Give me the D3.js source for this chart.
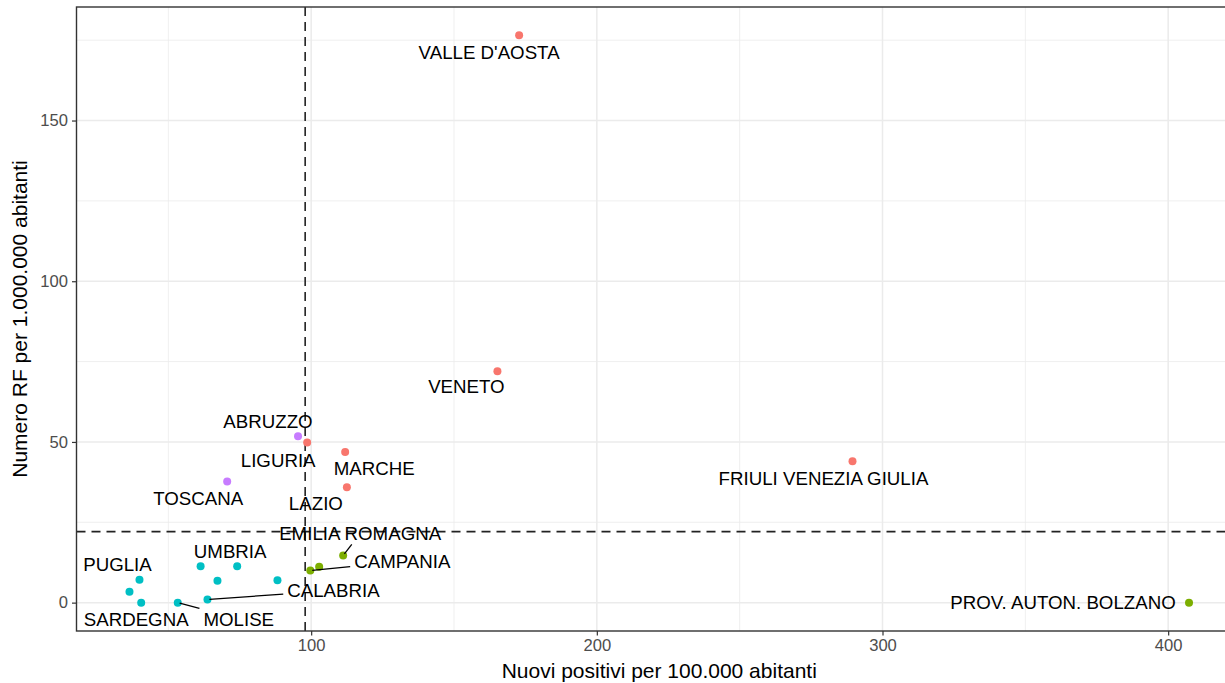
<!DOCTYPE html>
<html>
<head>
<meta charset="utf-8">
<script src="https://cdn.jsdelivr.net/npm/d3@7"></script>
<style>
body { margin: 0; background: #fff; }
svg { display: block; font-family: "Liberation Sans", Arial, sans-serif; }
</style>
</head>
<body>
<script>
// dati
var regioni = ["VALLE D'AOSTA", "VENETO", "FRIULI VENEZIA GIULIA", "PROV. AUTON. BOLZANO",
    "ABRUZZO", "LIGURIA", "MARCHE", "LAZIO", "TOSCANA", "EMILIA ROMAGNA", "CAMPANIA",
    "PROV. AUTON. TRENTO", "PUGLIA", "SARDEGNA", "MOLISE", "CALABRIA", "UMBRIA",
    "SICILIA", "BASILICATA", "LOMBARDIA", "PIEMONTE"];
var nuoviPositivi = [172.8, 165.2, 289.5, 407.3, 95.4, 98.6, 111.9, 112.5, 70.6, 111.2, 99.7,
    102.8, 39.9, 40.5, 53.3, 63.7, 74.1, 36.4, 61.3, 67.2, 88.2];
var numeroRF = [176.5, 72.0, 44.0, 0, 51.8, 49.8, 46.9, 35.9, 37.7, 14.7, 10.0,
    11.2, 7.1, 0, 0, 1.0, 11.3, 3.4, 11.3, 6.8, 7.0];
var gruppo = [1, 1, 1, 2, 4, 1, 1, 1, 4, 2, 2, 2, 3, 3, 3, 3, 3, 3, 3, 3, 3];
var xTicks = [100, 200, 300, 400];
var yTicks = [0, 50, 100, 150];
var xMinor = [50, 150, 250, 350];
var yMinor = [25, 75, 125, 175];
var sogliaX = 97.9, sogliaY = 22.1;

// spostamento etichette (px, rispetto al punto) come da ggrepel; seg = linea di collegamento
var etichette = {
    "VALLE D'AOSTA": {dx: -30, dy: 24},
    "VENETO": {dx: -31, dy: 22},
    "FRIULI VENEZIA GIULIA": {dx: -29, dy: 24},
    "PROV. AUTON. BOLZANO": {dx: -126, dy: 6},
    "ABRUZZO": {dx: -30, dy: -8},
    "LIGURIA": {dx: -29, dy: 24},
    "MARCHE": {dx: 29, dy: 23},
    "LAZIO": {dx: -31, dy: 23},
    "TOSCANA": {dx: -29, dy: 24},
    "EMILIA ROMAGNA": {dx: 17, dy: -15, seg: true},
    "CAMPANIA": {dx: 92, dy: -2, seg: true},
    "PUGLIA": {dx: -22, dy: -9},
    "SARDEGNA": {dx: -5, dy: 23},
    "MOLISE": {dx: 61, dy: 23, seg: true},
    "CALABRIA": {dx: 126, dy: -2, seg: true},
    "UMBRIA": {dx: -7, dy: -8}
};

var colori = {1: "#F8766D", 2: "#7CAE00", 3: "#00BFC4", 4: "#C77CFF"};

var W = 1225, H = 683;
var panel = {left: 76.5, right: 1242, top: 7, bottom: 631};

var dati = regioni.map(function(r, i) {
    return {nome: r, x: nuoviPositivi[i], y: numeroRF[i], g: gruppo[i]};
});

var xExt = d3.extent(nuoviPositivi), yExt = d3.extent(numeroRF);
var xPad = (xExt[1] - xExt[0]) * 0.05, yPad = (yExt[1] - yExt[0]) * 0.05;

var x = d3.scaleLinear().domain([xExt[0] - xPad, xExt[1] + xPad]).range([panel.left, panel.right]);
var y = d3.scaleLinear().domain([yExt[0] - yPad, yExt[1] + yPad]).range([panel.bottom, panel.top]);

var svg = d3.select("body").append("svg")
    .attr("width", W)
    .attr("height", H);

var pw = panel.right - panel.left, ph = panel.bottom - panel.top;

// griglia
var grid = svg.append("g");
grid.selectAll(".vmin").data(xMinor).enter().append("line")
    .attr("x1", function(d) { return x(d); }).attr("x2", function(d) { return x(d); })
    .attr("y1", panel.top).attr("y2", panel.bottom)
    .style("stroke", "#EBEBEB").style("stroke-width", 0.8);
grid.selectAll(".hmin").data(yMinor).enter().append("line")
    .attr("y1", function(d) { return y(d); }).attr("y2", function(d) { return y(d); })
    .attr("x1", panel.left).attr("x2", panel.right)
    .style("stroke", "#EBEBEB").style("stroke-width", 0.8);
grid.selectAll(".vmaj").data(xTicks).enter().append("line")
    .attr("x1", function(d) { return x(d); }).attr("x2", function(d) { return x(d); })
    .attr("y1", panel.top).attr("y2", panel.bottom)
    .style("stroke", "#EBEBEB").style("stroke-width", 1.5);
grid.selectAll(".hmaj").data(yTicks).enter().append("line")
    .attr("y1", function(d) { return y(d); }).attr("y2", function(d) { return y(d); })
    .attr("x1", panel.left).attr("x2", panel.right)
    .style("stroke", "#EBEBEB").style("stroke-width", 1.5);

// linee di soglia
svg.append("line")
    .attr("x1", x(sogliaX)).attr("x2", x(sogliaX))
    .attr("y1", panel.top).attr("y2", panel.bottom)
    .style("stroke", "#222").style("stroke-width", 1.6).style("stroke-dasharray", "9,6");
svg.append("line")
    .attr("y1", y(sogliaY)).attr("y2", y(sogliaY))
    .attr("x1", panel.left).attr("x2", panel.right)
    .style("stroke", "#222").style("stroke-width", 1.6).style("stroke-dasharray", "9,6");

// punti
svg.selectAll(".punto").data(dati).enter().append("circle")
    .attr("class", "punto")
    .attr("cx", function(d) { return x(d.x); })
    .attr("cy", function(d) { return y(d.y); })
    .attr("r", 4)
    .style("fill", function(d) { return colori[d.g]; });

// etichette
var fs = 18.7, capH = fs * 0.716;
var lab = dati.filter(function(d) { return etichette[d.nome]; });

var labG = svg.append("g");
lab.forEach(function(d) {
    var e = etichette[d.nome];
    var px = x(d.x), py = y(d.y);
    var t = labG.append("text")
        .attr("x", px + e.dx)
        .attr("y", py + e.dy)
        .attr("text-anchor", "middle")
        .style("font-size", fs + "px")
        .style("fill", "#000")
        .text(d.nome);
    if (e.seg) {
        var w = t.node().getComputedTextLength();
        var cx = px + e.dx, cy = py + e.dy - capH / 2;
        var bx0 = cx - w / 2 - 4, bx1 = cx + w / 2 + 4;
        var by0 = cy - capH / 2 - 4, by1 = cy + capH / 2 + 4;
        // intersezione del segmento punto->centro con il riquadro
        var ddx = cx - px, ddy = cy - py, tt = 1;
        if (ddx > 0) tt = Math.min(tt, (bx0 - px) / ddx);
        if (ddx < 0) tt = Math.min(tt, (bx1 - px) / ddx);
        var ty = 1;
        if (ddy > 0) ty = (by0 - py) / ddy;
        if (ddy < 0) ty = (by1 - py) / ddy;
        tt = Math.max(tt, Math.min(ty, 1));
        var len = Math.sqrt(ddx * ddx + ddy * ddy);
        var s = 2 / len;
        labG.append("line")
            .attr("x1", px + ddx * s).attr("y1", py + ddy * s)
            .attr("x2", px + ddx * tt).attr("y2", py + ddy * tt)
            .style("stroke", "#000").style("stroke-width", 1.3);
    }
});

// bordo pannello
svg.append("rect")
    .attr("x", panel.left).attr("y", panel.top)
    .attr("width", pw).attr("height", ph)
    .style("fill", "none").style("stroke", "#333").style("stroke-width", 1.4);

// assi
var xAxis = d3.axisBottom(x).tickValues(xTicks).tickSize(4.5).tickPadding(4).tickFormat(d3.format("d"));
var yAxis = d3.axisLeft(y).tickValues(yTicks).tickSize(4.5).tickPadding(4).tickFormat(d3.format("d"));

var gx = svg.append("g")
    .attr("transform", "translate(0," + panel.bottom + ")")
    .call(xAxis);
var gy = svg.append("g")
    .attr("transform", "translate(" + panel.left + ",0)")
    .call(yAxis);

[gx, gy].forEach(function(g) {
    g.select(".domain").remove();
    g.selectAll(".tick line").style("stroke", "#333").style("stroke-width", 1.2);
    g.selectAll(".tick text")
        .style("font-family", "'Liberation Sans', Arial, sans-serif")
        .style("font-size", "16.6px")
        .style("fill", "#4D4D4D");
});

svg.append("text")
    .attr("x", (panel.left + panel.right) / 2)
    .attr("y", 678)
    .attr("text-anchor", "middle")
    .style("font-size", "21px")
    .text("Nuovi positivi per 100.000 abitanti");

svg.append("text")
    .attr("transform", "translate(27," + ((panel.top + panel.bottom) / 2) + ") rotate(-90)")
    .attr("text-anchor", "middle")
    .style("font-size", "21px")
    .text("Numero RF per 1.000.000 abitanti");
</script>
</body>
</html>
